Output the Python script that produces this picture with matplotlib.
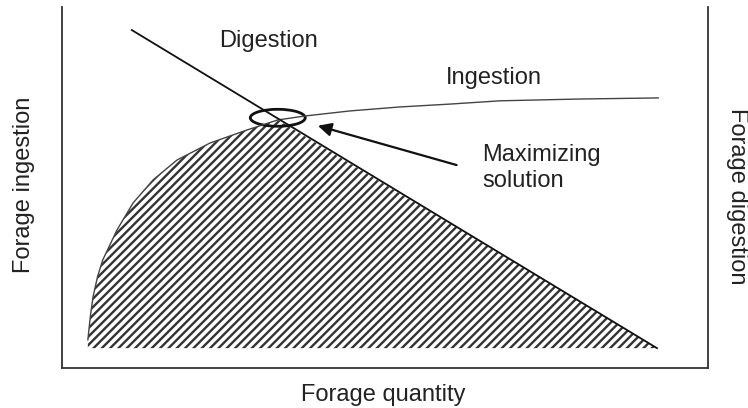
import matplotlib
matplotlib.use("Agg")
import matplotlib.pyplot as plt
from matplotlib.patches import Ellipse

plt.rcParams['font.family'] = ['Liberation Sans', 'DejaVu Sans']
plt.rcParams['hatch.linewidth'] = 1.7

# forage quantity (x) vs ingestion curve (0-100 units)
ingestion_x = [4.0, 4.4, 4.8, 5.5, 6.3, 8.5, 11.0, 14.1, 17.8, 22.9, 28.6, 33.4,
               37.6, 44.6, 52.3, 60.1, 67.8, 80.2, 92.3]
ingestion_y = [7.8, 14.5, 19.7, 25.3, 29.9, 38.2, 45.7, 52.1, 57.6, 62.3, 65.9, 68.7,
               69.8, 71.2, 72.3, 73.1, 74.0, 74.5, 74.8]

# digestion is a straight line
digestion_x = [10.8, 92.1]
digestion_y = [93.6, 5.5]

# maximizing solution (where both meet)
best_x, best_y = 33.4, 69.3
baseline = 5.5

fig = plt.figure(figsize=(7.48, 4.08), dpi=100)
ax = fig.add_axes([0.0829, 0.098, 0.8636, 0.885])
ax.set_xlim(0, 100)
ax.set_ylim(0, 100)

# hatched feasible region: under ingestion up to the optimum, then under digestion
n = ingestion_x.index(best_x) + 1
poly_x = ingestion_x[:n] + [digestion_x[1], ingestion_x[0]]
poly_y = ingestion_y[:n] + [digestion_y[1], baseline]
ax.fill(poly_x, poly_y, facecolor='white', edgecolor='#333333', hatch='////', linewidth=0)

ax.plot(ingestion_x, ingestion_y, color='#444444', lw=1.0)
ax.plot(digestion_x, digestion_y, color='#111111', lw=1.3)

ax.add_patch(Ellipse((best_x, best_y), 8.5, 4.7, fill=False, edgecolor='#111111', lw=2.0))

ax.annotate('', xy=(39.2, 67.3), xytext=(61.5, 56.0),
            arrowprops=dict(arrowstyle='-|>', color='#111111', lw=1.6, mutation_scale=20))

txt = dict(fontsize=17, color='#222222')
ax.text(31.9, 90.6, 'Digestion', ha='center', va='center', **txt)
ax.text(66.9, 80.3, 'Ingestion', ha='center', va='center', **txt)
ax.text(65.0, 55.4, 'Maximizing\nsolution', ha='left', va='center', **txt)

ax.set_xticks([])
ax.set_yticks([])
ax.spines['top'].set_visible(False)
for s in ['left', 'bottom', 'right']:
    ax.spines[s].set_linewidth(1.3)
    ax.spines[s].set_color('#333333')

fig.text(0.513, 0.032, 'Forage quantity', ha='center', va='center', **txt)
fig.text(0.032, 0.547, 'Forage ingestion', ha='center', va='center', rotation=90, **txt)
fig.text(0.985, 0.52, 'Forage digestion', ha='center', va='center', rotation=270, **txt)

fig.savefig('out.png', dpi=100)
